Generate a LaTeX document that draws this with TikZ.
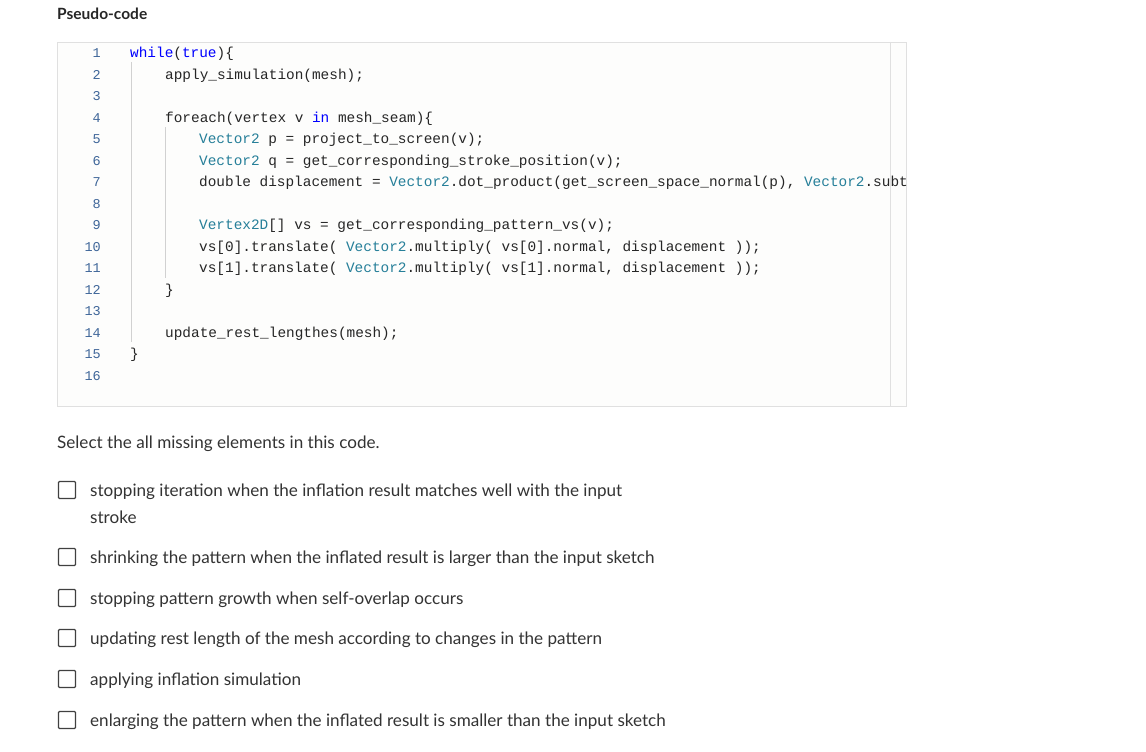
\documentclass[tikz,border=0pt]{standalone}
\usepackage{fontspec}
\setmainfont{Lato}
\newfontfamily\codefont{Liberation Mono}
\begin{document}
\begin{tikzpicture}[x=1pt,y=-1pt,
  code/.style={anchor=base west,inner sep=0,font=\codefont\fontsize{14.4}{16}\selectfont,text=black!85},
  lnum/.style={anchor=base east,inner sep=0,font=\codefont\fontsize{13.5}{16}\selectfont,text=cyan!50!blue!70!black},
  opt/.style={anchor=base west,inner sep=0,font=\fontsize{17.1}{20}\selectfont,text=black!80},
  cbox/.style={draw=black!75,line width=1.3pt,rounded corners=1pt,minimum size=17pt,inner sep=0}]
\definecolor{kw}{HTML}{0000FF}
\definecolor{ty}{HTML}{267F99}
\definecolor{boxbg}{HTML}{FDFDFC}
\useasboundingbox (0,0) rectangle (1146,752);
\fill[white] (0,0) rectangle (1146,752);
\node[anchor=base west,inner sep=0,font=\bfseries\fontsize{15.5}{18}\selectfont,text=black!85] (title) at (57,20) {Pseudo-code};
\node[draw=black!12,fill=boxbg,line width=1pt,minimum width=849pt,minimum height=364pt,anchor=north west,inner sep=0] (box) at (57,42) {};
\draw[black!12,line width=1pt] (890,42) -- (890,406);
\draw[black!18] (131,62) -- (131,342);
\draw[black!18] (165,127) -- (165,278);
\foreach \i in {1,...,16}{\node[lnum] (n\i) at (101,{58+(\i-1)*21.47}) {\i};}
\begin{scope}
\clip (57,42) rectangle (906,406);
\node[code] (c1) at (130,58) {\textcolor{kw}{while}(\textcolor{kw}{true})\{};
\node[code] (c2) at (165,79.5) {apply\_simulation(mesh);};
\node[code] (c4) at (165,122.4) {foreach(vertex v \textcolor{kw}{in} mesh\_seam)\{};
\node[code] (c5) at (199,143.9) {\textcolor{ty}{Vector2} p = project\_to\_screen(v);};
\node[code] (c6) at (199,165.4) {\textcolor{ty}{Vector2} q = get\_corresponding\_stroke\_position(v);};
\node[code] (c7) at (199,186.8) {double displacement = \textcolor{ty}{Vector2}.dot\_product(get\_screen\_space\_normal(p), \textcolor{ty}{Vector2}.subt};
\node[code] (c9) at (199,229.8) {\textcolor{ty}{Vertex2D}[] vs = get\_corresponding\_pattern\_vs(v);};
\node[code] (c10) at (199,251.2) {vs[0].translate( \textcolor{ty}{Vector2}.multiply( vs[0].normal, displacement ));};
\node[code] (c11) at (199,272.7) {vs[1].translate( \textcolor{ty}{Vector2}.multiply( vs[1].normal, displacement ));};
\node[code] (c12) at (165,294.2) {\}};
\node[code] (c14) at (165,337.1) {update\_rest\_lengthes(mesh);};
\node[code] (c15) at (130,358.6) {\}};
\end{scope}
\node[opt] (q) at (57,448) {Select the all missing elements in this code.};
\foreach \y/\t [count=\k] in {490/{stopping iteration when the inflation result matches well with the input},
 557/{shrinking the pattern when the inflated result is larger than the input sketch},
 598/{stopping pattern growth when self-overlap occurs},
 638/{updating rest length of the mesh according to changes in the pattern},
 679/{applying inflation simulation},
 720/{enlarging the pattern when the inflated result is smaller than the input sketch}}{
 \node[cbox] (b\k) at (67,\y) {};
 \node[opt] (o\k) at (90,\y+6) {\t};
}
\node[opt] (o1b) at (90,523) {stroke};
\end{tikzpicture}
\end{document}
